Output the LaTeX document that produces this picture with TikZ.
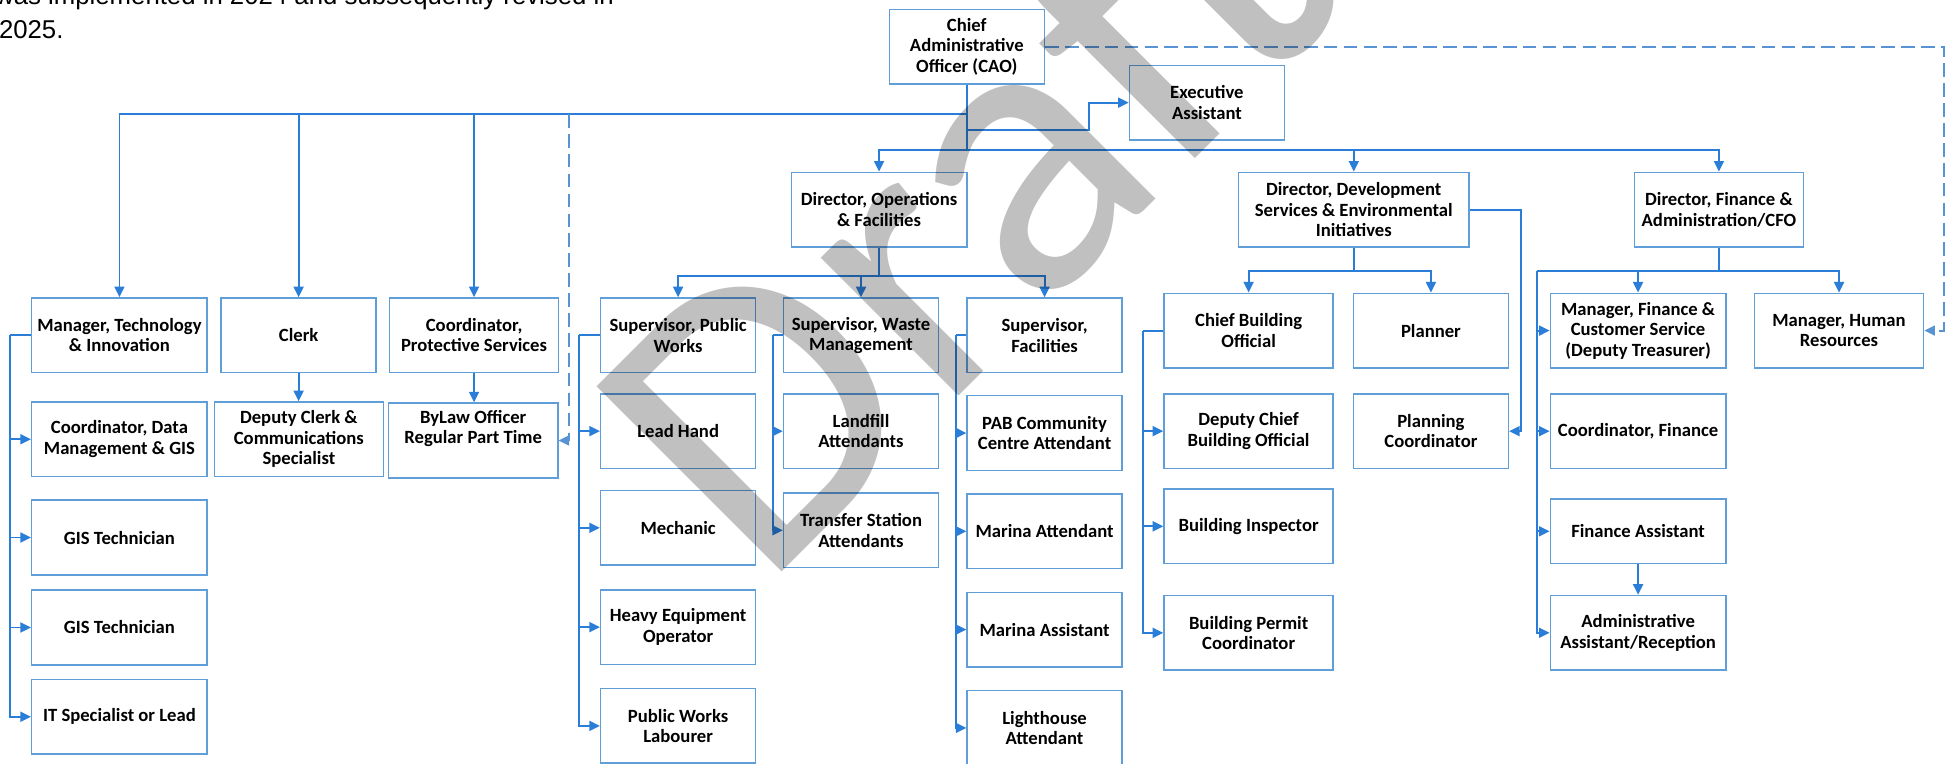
\documentclass[tikz,border=0pt]{standalone}
\usepackage{fontspec}
\setmainfont{Carlito}
\newfontfamily\notefont{Liberation Sans}
\usetikzlibrary{arrows.meta,calc}
\definecolor{boxblue}{RGB}{96,158,218}
\definecolor{linkblue}{RGB}{42,126,216}
\definecolor{dashblue}{RGB}{88,148,212}
\definecolor{markgray}{RGB}{192,192,192}

\begin{document}
\begin{tikzpicture}[x=1pt,y=-1pt,
  box/.style={draw=boxblue,line width=1.2pt,rectangle,align=center,inner sep=2pt,minimum height=60pt,
    font=\fontsize{15}{16.5}\selectfont\bfseries},
  wa/.style={box,minimum width=124.5pt},
  wb/.style={box,minimum width=136pt},
  wc/.style={box,minimum width=141pt},
  link/.style={draw=linkblue,line width=1.5pt},
  tip/.style={link,-{Triangle[length=8.5pt,width=8pt]}},
  dashtip/.style={draw=dashblue,line width=1.5pt,dash pattern=on 11pt off 5pt,-{Triangle[length=8.5pt,width=8pt]}},
  note/.style={anchor=base west,inner sep=0pt,font=\notefont\fontsize{20.7}{25}\selectfont}]
\useasboundingbox (0,0) rectangle (1568,614);
\clip (0,0) rectangle (1568,614);
\pgfmathsetmacro{\stub}{16.6}
\pgfmathsetmacro{\nub}{8.2}

\node[note] (note1) at (-4,3.5) {was implemented in 2024 and subsequently revised in};
\node[note] (note2) at (-1,30.8) {2025.};

\node[wa] (cao) at (777,37.5) {Chief\\Administrative\\Officer (CAO)};
\node[wa] (exec) at (970,82.5) {Executive\\Assistant};
\node[wc] (dops) at (706.5,168.5) {Director, Operations\\\& Facilities};
\node[box,minimum width=185.6pt] (ddev) at (1088,168.5) {Director, Development\\Services \& Environmental\\Initiatives};
\node[wb] (dfin) at (1381.5,168.5) {Director, Finance \&\\Administration/CFO};

\node[wc] (mti) at (96,269.4) {Manager, Technology\\\& Innovation};
\node[wa] (clerk) at (240,269.4) {Clerk};
\node[wb] (cps) at (381,269.4) {Coordinator,\\Protective Services};
\node[wa] (spw) at (545,269.5) {Supervisor, Public\\Works};
\node[wa] (swm) at (692,269.5) {Supervisor, Waste\\Management};
\node[wa] (sfac) at (839.5,269.5) {Supervisor,\\Facilities};
\node[wb] (cbo) at (1003.5,265.7) {Chief Building\\Official};
\node[wa] (planner) at (1150,265.7) {Planner};
\node[wc] (mfin) at (1316.5,265.7) {Manager, Finance \&\\Customer Service\\(Deputy Treasurer)};
\node[wb] (mhr) at (1478,265.7) {Manager, Human\\Resources};

\node[wc] (cdm) at (96,353) {Coordinator, Data\\Management \& GIS};
\node[wc] (gis1) at (96,432) {GIS Technician};
\node[wc] (gis2) at (96,504.3) {GIS Technician};
\node[wc] (its) at (96,576) {IT Specialist or Lead};
\node[wb] (dclerk) at (240.2,353) {Deputy Clerk \&\\Communications\\Specialist};
\node[wb] (bylaw) at (380.3,354) {ByLaw Officer\\Regular Part Time\\\strut};

\node[wa] (lead) at (545,346.5) {Lead Hand};
\node[wa] (mech) at (545,424.2) {Mechanic};
\node[wa] (heavy) at (545,504) {Heavy Equipment\\Operator};
\node[wa] (pwl) at (545,583.4) {Public Works\\Labourer};
\node[wa] (landfill) at (692,346.5) {Landfill\\Attendants};
\node[wa] (transfer) at (692,426.2) {Transfer Station\\Attendants};
\node[wa] (pab) at (839.5,348) {PAB Community\\Centre Attendant};
\node[wa] (marina1) at (839.5,427) {Marina Attendant};
\node[wa] (marina2) at (839.5,506) {Marina Assistant};
\node[wa] (lighthouse) at (839.5,585) {Lighthouse\\Attendant};

\node[wb] (dcbo) at (1003.5,346.5) {Deputy Chief\\Building Official};
\node[wb] (binsp) at (1003.5,423) {Building Inspector};
\node[wb] (bpc) at (1003.5,508.6) {Building Permit\\Coordinator};
\node[wa] (pcoord) at (1150,346.5) {Planning\\Coordinator};
\node[wc] (cfin) at (1316.5,346.5) {Coordinator, Finance};
\node[wc,minimum height=52pt] (fasst) at (1316.5,427) {Finance Assistant};
\node[wc] (aasst) at (1316.5,508.6) {Administrative\\Assistant/Reception};

\coordinate (leftbar) at (777,91.6);
\coordinate (execbar) at (777,104.5);
\coordinate (dirbar) at (777,120.5);
\coordinate (dashtop) at (457,91.6);
\coordinate (hrcorner) at (1562.5,37.5);
\coordinate (opsbar) at (706.5,222);
\coordinate (devbar) at (1088,218);
\coordinate (finbar) at (1381.5,218);
\coordinate (fintop) at (1235,218);

\draw[link] (cao.south) -- (dirbar);
\draw[link] (leftbar) -- (dashtop);
\draw[tip] (leftbar) -| (mti.north);
\draw[tip] (leftbar) -| (clerk.north);
\draw[tip] (leftbar) -| (cps.north);
\draw[dashtip] (dashtop) |- (bylaw.east);
\draw[tip] (execbar) -- ++(98,0) |- (exec.west);
\draw[tip] (dirbar) -| (dops.north);
\draw[tip] (dirbar) -| (ddev.north);
\draw[tip] (dirbar) -| (dfin.north);
\draw[dashtip] (cao.east) -- (hrcorner) |- (mhr.east);

\draw[tip] (clerk.south) -- (clerk.south |- dclerk.north);
\draw[tip] (cps.south) -- (cps.south |- bylaw.north);
\draw[link] (mti.west) -- ++(-\stub,0) coordinate (mtitop);
\foreach \n in {cdm,gis1,gis2,its}
  \draw[tip] (mtitop) |- (\n.west);

\draw[link] (dops.south) -- (opsbar);
\draw[tip] (opsbar) -| (spw.north);
\draw[tip] (opsbar) -| (swm.north);
\draw[tip] (opsbar) -| (sfac.north);
\draw[link] (spw.west) -- ++(-\stub,0) coordinate (pwtop);
\foreach \n in {lead,mech,heavy,pwl}
  \draw[tip] (pwtop) |- (\n.west);
\draw[link] (swm.west) -- ++(-\nub,0) coordinate (wastetop);
\foreach \n in {landfill,transfer}
  \draw[tip] (wastetop) |- (\n.west);
\draw[link] (sfac.west) -- ++(-\nub,0) coordinate (factop);
\foreach \n in {pab,marina1,marina2,lighthouse}
  \draw[tip] (factop) |- (\n.west);

\draw[link] (ddev.south) -- (devbar);
\draw[tip] (devbar) -| (cbo.north);
\draw[tip] (devbar) -| (planner.north);
\draw[link] (cbo.west) -- ++(-\stub,0) coordinate (cbotop);
\foreach \n in {dcbo,binsp,bpc}
  \draw[tip] (cbotop) |- (\n.west);
\draw[tip] (ddev.east) -- ++(41,0) |- (pcoord.east);

\draw[link] (dfin.south) -- (finbar);
\draw[tip] (finbar) -| (mhr.north);
\draw[tip] (finbar) -| (mfin.north);
\draw[link] (mfin.north |- finbar) -- (fintop);
\foreach \n in {mfin,cfin,fasst,aasst}
  \draw[tip] (fintop) |- (\n.west);
\draw[tip] (fasst.south) -- (aasst.north);

\node[anchor=base west,inner sep=0pt,rotate=45,text=markgray,blend mode=multiply,
  font=\fontsize{328}{328}\selectfont] (draft) at (613,475.5) {Draft};
\end{tikzpicture}
\end{document}
